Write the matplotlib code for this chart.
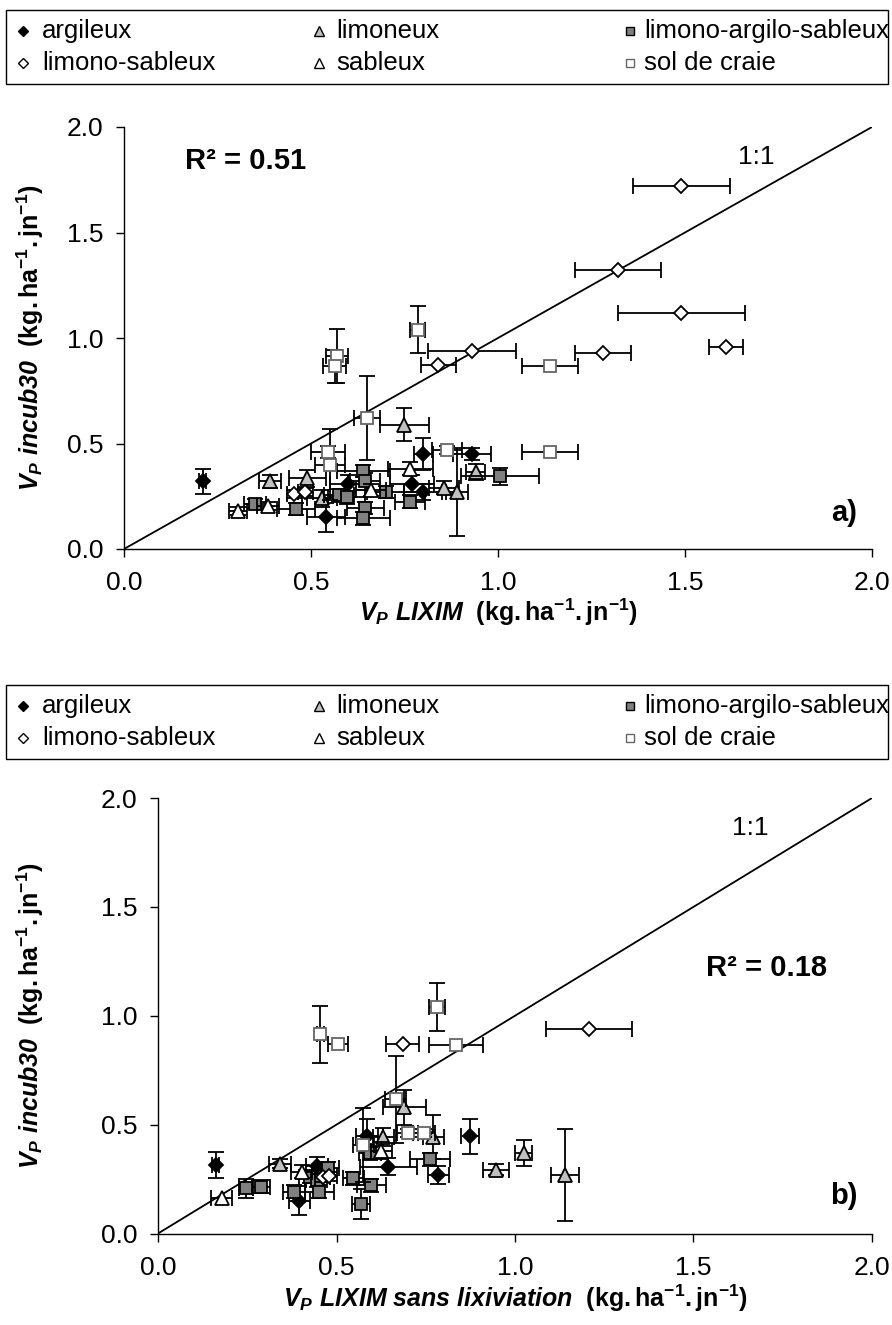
import numpy as np
import matplotlib
matplotlib.use('Agg')
import matplotlib.pyplot as plt
from matplotlib.patches import Rectangle
from matplotlib.ticker import FormatStrFormatter

plt.rcParams['font.family'] = ['Liberation Sans', 'DejaVu Sans']
plt.rcParams['mathtext.fontset'] = 'custom'
plt.rcParams['mathtext.rm'] = 'Liberation Sans'
plt.rcParams['mathtext.it'] = 'Liberation Sans:italic'
plt.rcParams['mathtext.bf'] = 'Liberation Sans:bold'
plt.rcParams['mathtext.bfit'] = 'Liberation Sans:bold:italic'

# ---------------- categories ----------------
categories = ['argileux', 'limoneux', 'limono-argilo-sableux',
              'limono-sableux', 'sableux', 'sol de craie']

# ---------------- panel a) data ----------------
a_argileux_x = [0.21, 0.54, 0.60, 0.77, 0.80, 0.80, 0.93]
a_argileux_y = [0.32, 0.15, 0.31, 0.31, 0.45, 0.27, 0.45]
a_argileux_xerr = [0.01, 0.05, 0.05, 0.06, 0.025, 0.05, 0.05]
a_argileux_yerr = [0.06, 0.07, 0.04, 0.04, 0.075, 0.04, 0.03]

a_limoneux_x = [0.39, 0.49, 0.53, 0.75, 0.855, 0.89, 0.94]
a_limoneux_y = [0.32, 0.335, 0.24, 0.59, 0.29, 0.27, 0.365]
a_limoneux_xerr = [0.03, 0.05, 0.04, 0.065, 0.04, 0.03, 0.025]
a_limoneux_yerr = [0.03, 0.04, 0.04, 0.08, 0.03, 0.21, 0.04]

a_las_x = [0.35, 0.46, 0.575, 0.595, 0.64, 0.645, 0.645, 0.64, 0.70, 0.765, 1.005]
a_las_y = [0.215, 0.19, 0.255, 0.245, 0.37, 0.32, 0.195, 0.145, 0.27, 0.225, 0.345]
a_las_xerr = [0.03, 0.05, 0.04, 0.05, 0.07, 0.04, 0.05, 0.07, 0.05, 0.04, 0.105]
a_las_yerr = [0.02, 0.03, 0.03, 0.03, 0.03, 0.04, 0.03, 0.03, 0.03, 0.03, 0.04]

a_ls_x = [0.455, 0.485, 0.84, 0.93, 1.28, 1.32, 1.49, 1.61, 1.49]
a_ls_y = [0.26, 0.27, 0.87, 0.94, 0.93, 1.32, 1.12, 0.955, 1.72]
a_ls_xerr = [0.02, 0.02, 0.047, 0.117, 0.075, 0.115, 0.17, 0.045, 0.13]
a_ls_yerr = [0.02, 0.02, 0, 0, 0, 0, 0, 0, 0]

a_sableux_x = [0.305, 0.385, 0.66, 0.765]
a_sableux_y = [0.18, 0.205, 0.28, 0.38]
a_sableux_xerr = [0.025, 0.03, 0.04, 0.06]
a_sableux_yerr = [0.02, 0.02, 0.03, 0.03]

a_craie_x = [0.785, 0.57, 0.563, 0.65, 0.545, 0.55, 0.863, 1.14, 1.14]
a_craie_y = [1.04, 0.915, 0.865, 0.62, 0.46, 0.40, 0.47, 0.865, 0.46]
a_craie_xerr = [0.02, 0.03, 0.03, 0.035, 0.045, 0.04, 0.04, 0.075, 0.075]
a_craie_yerr = [0.11, 0.13, 0.08, 0.2, 0.03, 0.17, 0.02, 0, 0]

# ---------------- panel b) data ----------------
b_argileux_x = [0.162, 0.396, 0.445, 0.585, 0.645, 0.785, 0.874]
b_argileux_y = [0.314, 0.151, 0.31, 0.45, 0.307, 0.268, 0.447]
b_argileux_xerr = [0.01, 0.03, 0.03, 0.03, 0.08, 0.03, 0.025]
b_argileux_yerr = [0.06, 0.065, 0.04, 0.075, 0.04, 0.04, 0.08]

b_limoneux_x = [0.342, 0.631, 0.69, 0.771, 0.947, 1.025, 1.14]
b_limoneux_y = [0.32, 0.444, 0.579, 0.444, 0.292, 0.368, 0.268]
b_limoneux_xerr = [0.03, 0.03, 0.06, 0.03, 0.037, 0.024, 0.038]
b_limoneux_yerr = [0.02, 0.04, 0.08, 0.1, 0.025, 0.06, 0.21]

b_las_x = [0.246, 0.289, 0.381, 0.426, 0.444, 0.477, 0.452, 0.547, 0.568, 0.598, 0.594, 0.762]
b_las_y = [0.207, 0.215, 0.192, 0.26, 0.245, 0.299, 0.192, 0.253, 0.135, 0.222, 0.368, 0.34]
b_las_xerr = [0.02, 0.025, 0.03, 0.03, 0.03, 0.03, 0.04, 0.03, 0.025, 0.04, 0.03, 0.055]
b_las_yerr = [0.045, 0.03, 0.03, 0.03, 0.03, 0.03, 0.03, 0.03, 0.07, 0.03, 0.03, 0.03]

b_ls_x = [0.461, 0.48, 0.685, 1.208]
b_ls_y = [0.258, 0.262, 0.869, 0.937]
b_ls_xerr = [0.02, 0.02, 0.045, 0.12]
b_ls_yerr = [0.02, 0.02, 0, 0]

b_sableux_x = [0.178, 0.402, 0.626]
b_sableux_y = [0.165, 0.284, 0.38]
b_sableux_xerr = [0.03, 0.03, 0.03]
b_sableux_yerr = [0.0, 0.03, 0.04]

b_craie_x = [0.454, 0.505, 0.782, 0.835, 0.666, 0.575, 0.699, 0.745]
b_craie_y = [0.915, 0.869, 1.04, 0.867, 0.617, 0.406, 0.462, 0.462]
b_craie_xerr = [0.01, 0.028, 0.023, 0.075, 0.03, 0.03, 0.03, 0.03]
b_craie_yerr = [0.13, 0, 0.11, 0, 0.2, 0.17, 0.02, 0.02]

ticks = [0.0, 0.5, 1.0, 1.5, 2.0]
r2_a = 'R² = 0.51'
r2_b = 'R² = 0.18'

# ---------------- styles ----------------
styles = {
    'argileux': dict(marker='D', ms=7.5, mfc='black', mec='black'),
    'limoneux': dict(marker='^', ms=10, mfc='#C0C0C0', mec='black'),
    'limono-argilo-sableux': dict(marker='s', ms=8.5, mfc='#808080', mec='black'),
    'limono-sableux': dict(marker='D', ms=7.5, mfc='white', mec='black'),
    'sableux': dict(marker='^', ms=10, mfc='white', mec='black'),
    'sol de craie': dict(marker='s', ms=8.5, mfc='white', mec='#666666'),
}

panel_a = [
    (a_argileux_x, a_argileux_y, a_argileux_xerr, a_argileux_yerr),
    (a_limoneux_x, a_limoneux_y, a_limoneux_xerr, a_limoneux_yerr),
    (a_las_x, a_las_y, a_las_xerr, a_las_yerr),
    (a_ls_x, a_ls_y, a_ls_xerr, a_ls_yerr),
    (a_sableux_x, a_sableux_y, a_sableux_xerr, a_sableux_yerr),
    (a_craie_x, a_craie_y, a_craie_xerr, a_craie_yerr),
]
panel_b = [
    (b_argileux_x, b_argileux_y, b_argileux_xerr, b_argileux_yerr),
    (b_limoneux_x, b_limoneux_y, b_limoneux_xerr, b_limoneux_yerr),
    (b_las_x, b_las_y, b_las_xerr, b_las_yerr),
    (b_ls_x, b_ls_y, b_ls_xerr, b_ls_yerr),
    (b_sableux_x, b_sableux_y, b_sableux_xerr, b_sableux_yerr),
    (b_craie_x, b_craie_y, b_craie_xerr, b_craie_yerr),
]

W, H, DPI = 892, 1325, 100
fig = plt.figure(figsize=(W / DPI, H / DPI), dpi=DPI)


def rect(l, r, t, b):
    return [l / W, 1 - b / H, (r - l) / W, (b - t) / H]


TICK_FS = 19
ELW = 1.3
CAP = 5.5


def draw_panel(ax, data):
    for i, (cat, (x, y, xe, ye)) in enumerate(zip(categories, data)):
        x = np.asarray(x, float); y = np.asarray(y, float)
        xe = np.asarray(xe, float); ye = np.asarray(ye, float)
        z = 3 + i
        mx = xe > 0
        if mx.any():
            ax.errorbar(x[mx], y[mx], xerr=xe[mx], fmt='none', ecolor='black',
                        elinewidth=ELW, capsize=CAP, capthick=ELW, zorder=z)
        my = ye > 0
        if my.any():
            ax.errorbar(x[my], y[my], yerr=ye[my], fmt='none', ecolor='black',
                        elinewidth=ELW, capsize=CAP, capthick=ELW, zorder=z)
        st = styles[cat]
        ax.plot(x, y, linestyle='none', marker=st['marker'], ms=st['ms'],
                mfc=st['mfc'], mec=st['mec'], mew=1.3, zorder=z + 0.5)
    lims = [ticks[0], ticks[-1]]
    ax.plot(lims, lims, color='black', lw=1.3, zorder=2)
    ax.set_xlim(lims)
    ax.set_ylim(lims)
    ax.set_xticks(ticks)
    ax.set_yticks(ticks)
    ax.xaxis.set_major_formatter(FormatStrFormatter('%.1f'))
    ax.yaxis.set_major_formatter(FormatStrFormatter('%.1f'))
    for s in ['top', 'right']:
        ax.spines[s].set_visible(False)
    for s in ['left', 'bottom']:
        ax.spines[s].set_linewidth(1.0)
    ax.tick_params(axis='both', direction='out', length=6, width=1.0,
                   labelsize=TICK_FS)
    ax.tick_params(axis='x', pad=10)
    ax.tick_params(axis='y', pad=9)


unit = r'\mathbf{(kg{.}ha^{-1}{.}jn^{-1})}'
ylab = r'$\mathbfit{V_P\ incub30}\ \ ' + unit + '$'
LAB_FS = 18

# ---- panel a
axA = fig.add_axes(rect(124, 872, 127, 549))
draw_panel(axA, panel_a)
axA.set_xlabel(r'$\mathbfit{V_P\ LIXIM}\ \ ' + unit + '$', fontsize=LAB_FS)
axA.set_ylabel(ylab, fontsize=LAB_FS, va='center')
axA.yaxis.set_label_coords((30 - 124) / 748, 0.5)
axA.xaxis.set_label_coords(0.5, -(612 - 549) / 422)
axA.xaxis.label.set_va('center')
axA.text(0.163, 1.84, r2_a, fontsize=21, fontweight='bold', ha='left', va='center')
axA.text(1.69, 1.86, '1:1', fontsize=19, ha='center', va='center')
axA.text(1.96, 0.17, 'a)', fontsize=21, fontweight='bold', ha='right', va='center')

# ---- panel b
axB = fig.add_axes(rect(158, 872, 798, 1233.5))
draw_panel(axB, panel_b)
axB.set_xlabel(r'$\mathbfit{V_P\ LIXIM\ sans\ lixiviation}\ \ ' + unit + '$',
               fontsize=LAB_FS)
axB.set_ylabel(ylab, fontsize=LAB_FS, va='center')
axB.yaxis.set_label_coords((30 - 158) / 714, 0.5)
axB.xaxis.set_label_coords(0.5, -(1298 - 1233.5) / 435.5)
axB.xaxis.label.set_va('center')
axB.text(1.535, 1.22, r2_b, fontsize=21, fontweight='bold', ha='left', va='center')
axB.text(1.66, 1.86, '1:1', fontsize=19, ha='center', va='center')
axB.text(1.96, 0.17, 'b)', fontsize=21, fontweight='bold', ha='right', va='center')

# ---- legends (drawn in pixel space on an overlay)
ov = fig.add_axes([0, 0, 1, 1])
ov.set_xlim(0, W)
ov.set_ylim(H, 0)
ov.axis('off')

leg_rows = [['argileux', 'limoneux', 'limono-argilo-sableux'],
            ['limono-sableux', 'sableux', 'sol de craie']]
col_marker_x = [23, 319, 630]
col_text_x = [42, 336, 644]
LEG_FS = 18.5


def draw_legend(top):
    ov.add_patch(Rectangle((6, top), 882, 74, fill=False, ec='black', lw=1.0))
    row_y = [top + 21, top + 53]
    for r, row in enumerate(leg_rows):
        for c, cat in enumerate(row):
            st = styles[cat]
            ov.plot([col_marker_x[c]], [row_y[r]], linestyle='none',
                    marker=st['marker'], ms=st['ms'] * 0.7, mfc=st['mfc'],
                    mec=st['mec'], mew=1.0)
            ov.text(col_text_x[c], row_y[r], cat, fontsize=LEG_FS,
                    ha='left', va='center')


draw_legend(10)
draw_legend(685)

fig.savefig('out.png', dpi=DPI)
